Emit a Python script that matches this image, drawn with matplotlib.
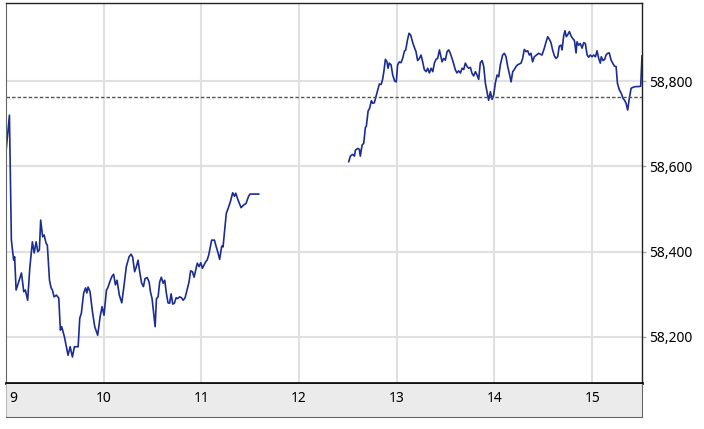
import matplotlib.pyplot as plt

plt.rcParams['font.family'] = ['Noto Sans', 'DejaVu Sans']

# Intraday prices, minutes after 9:00
am_min = [0.2, 2.1, 3.3, 4.7, 5.3, 6.2, 7.8, 9.5, 10.9, 11.9, 13.3, 14.6, 16.2, 17.3, 18.5, 19.5,
          20.5, 21.3, 22.5, 23.4, 24.6, 25.4, 26.7, 27.7, 28.5, 29.5, 31.0, 32.4, 33.4, 34.2, 35.9,
          37.1, 38.1, 39.4, 40.8, 42.0, 44.3, 45.3, 46.3, 47.7, 48.9, 49.6, 50.4, 51.6, 53.1, 54.5,
          56.3, 57.8, 59.0, 60.2, 61.7, 62.5, 64.1, 65.2, 66.1, 67.2, 68.2, 69.6, 71.1, 72.3, 73.9,
          75.6, 76.8, 77.8, 79.0, 80.1, 81.1, 82.1, 83.3, 84.4, 85.4, 86.7, 87.9, 88.7, 89.7, 90.7,
          91.6, 92.4, 93.4, 94.4, 95.4, 96.5, 97.5, 98.5, 99.5, 100.5, 101.4, 102.4, 103.4, 104.5,
          105.4, 106.7, 107.7, 108.8, 110.0, 111.2, 112.4, 113.4, 114.5, 115.5, 116.5, 117.5, 118.6,
          119.6, 120.6, 121.7, 122.6, 123.5, 124.5, 125.5, 126.3, 128.0, 129.0, 130.3, 131.2, 132.5,
          133.3, 134.3, 135.3, 136.4, 137.8, 139.2, 140.3, 141.1, 142.5, 144.4, 145.8, 147.4, 149.0,
          149.9, 155.2]
am_px = [58642, 58720, 58427, 58380, 58388, 58310, 58329, 58350, 58306, 58310, 58286, 58361, 58423,
         58397, 58423, 58400, 58404, 58474, 58435, 58439, 58420, 58415, 58333, 58315, 58310, 58294,
         58298, 58291, 58216, 58224, 58200, 58177, 58157, 58177, 58153, 58177, 58177, 58244, 58256,
         58303, 58315, 58303, 58317, 58306, 58259, 58224, 58204, 58247, 58271, 58251, 58310, 58315,
         58333, 58343, 58347, 58322, 58333, 58298, 58280, 58315, 58365, 58388, 58394, 58387, 58353,
         58365, 58380, 58353, 58326, 58318, 58337, 58339, 58329, 58306, 58290, 58255, 58224, 58290,
         58294, 58329, 58340, 58326, 58333, 58302, 58280, 58279, 58301, 58277, 58279, 58292, 58290,
         58294, 58292, 58286, 58292, 58310, 58329, 58355, 58353, 58340, 58357, 58373, 58365, 58374,
         58361, 58369, 58376, 58380, 58392, 58411, 58427, 58427, 58413, 58396, 58382, 58413, 58411,
         58451, 58490, 58501, 58517, 58538, 58530, 58537, 58521, 58503, 58509, 58513, 58530, 58535,
         58535]

pm_min = [210.5, 211.5, 212.9, 214.0, 214.6, 216.0, 217.0, 217.6, 218.7, 219.7, 220.7, 221.3, 222.4,
          223.3, 224.4, 225.2, 226.2, 227.3, 228.3, 229.3, 230.4, 231.3, 232.2, 233.0, 234.0, 234.6,
          235.4, 236.5, 237.5, 238.7, 239.7, 240.5, 241.6, 242.6, 243.6, 244.7, 245.5, 246.5, 247.5,
          248.5, 249.8, 250.8, 251.8, 252.8, 253.9, 254.9, 255.9, 256.9, 258.0, 259.0, 260.0, 261.1,
          262.1, 263.1, 264.1, 265.1, 266.2, 267.8, 268.8, 269.8, 270.9, 271.9, 272.9, 274.6, 276.0,
          277.0, 278.0, 279.1, 280.1, 281.1, 282.1, 283.2, 284.2, 285.2, 286.2, 287.2, 288.3, 289.3,
          290.3, 291.3, 292.4, 293.4, 294.4, 295.4, 296.4, 297.5, 298.5, 299.5, 300.5, 301.6, 302.6,
          303.6, 305.0, 306.1, 307.1, 308.1, 309.1, 310.2, 311.2, 312.2, 313.2, 314.2, 315.3, 316.3,
          317.3, 318.3, 319.4, 320.4, 321.4, 322.4, 323.4, 324.5, 327.1, 329.2, 330.6, 331.7, 332.7,
          333.7, 334.7, 335.7, 336.8, 337.8, 338.8, 339.8, 340.9, 341.5, 342.5, 343.3, 344.1, 344.9,
          346.0, 347.0, 348.0, 349.1, 350.1, 350.7, 351.7, 352.7, 353.8, 354.8, 355.8, 356.9, 357.8,
          358.9, 359.9, 360.9, 362.0, 363.0, 364.0, 365.0, 365.6, 366.7, 367.7, 368.5, 369.5, 370.5,
          371.6, 372.6, 373.6, 374.7, 375.5, 376.7, 377.9, 379.0, 379.9, 380.8, 381.8, 382.8, 383.9,
          384.9, 386.5, 388.5, 389.8, 390.6]
pm_px = [58611, 58624, 58628, 58624, 58638, 58642, 58640, 58624, 58650, 58654, 58691, 58694, 58730,
         58736, 58754, 58748, 58749, 58765, 58779, 58793, 58792, 58804, 58826, 58851, 58845, 58830,
         58842, 58838, 58814, 58800, 58798, 58838, 58845, 58843, 58853, 58870, 58873, 58895, 58912,
         58908, 58890, 58879, 58869, 58848, 58853, 58861, 58845, 58827, 58822, 58830, 58819, 58830,
         58822, 58842, 58851, 58853, 58873, 58845, 58853, 58849, 58869, 58873, 58865, 58845, 58826,
         58819, 58824, 58819, 58830, 58827, 58842, 58834, 58830, 58832, 58818, 58812, 58822, 58814,
         58804, 58843, 58848, 58834, 58795, 58775, 58755, 58775, 58757, 58767, 58795, 58814, 58810,
         58838, 58861, 58865, 58857, 58834, 58818, 58798, 58822, 58827, 58834, 58838, 58840, 58842,
         58853, 58874, 58869, 58871, 58861, 58865, 58845, 58857, 58865, 58861, 58877, 58892, 58904,
         58898, 58890, 58873, 58859, 58853, 58857, 58882, 58884, 58873, 58906, 58918, 58904, 58908,
         58916, 58906, 58900, 58895, 58866, 58892, 58884, 58888, 58877, 58890, 58888, 58861, 58856,
         58861, 58857, 58861, 58857, 58871, 58853, 58842, 58857, 58848, 58851, 58861, 58865, 58866,
         58849, 58842, 58835, 58834, 58795, 58779, 58771, 58759, 58755, 58748, 58732, 58759, 58783,
         58785, 58787, 58787, 58788, 58859]

prev_close = 58762
hours = [9, 10, 11, 12, 13, 14, 15]
y_ticks = [58200, 58400, 58600, 58800]

W, H = 704, 429
fig = plt.figure(figsize=(W / 100, H / 100), dpi=100)
ax = fig.add_axes([6 / W, (H - 383) / H, 636 / W, 380 / H])
band = fig.add_axes([6 / W, (H - 417) / H, 636 / W, 33 / H])

ax.set_xlim(0, 390.6)
ax.set_ylim(58092, 58983)

ax.plot(am_min, am_px, color='#1b2c93', lw=1.2)
ax.plot(pm_min, pm_px, color='#1b2c93', lw=1.2)
ax.axhline(prev_close, color='#555555', lw=1, ls=(0, (2.5, 1.5)))

tick_min = [(h - 9) * 60 for h in hours]
ax.set_xticks(tick_min[1:])
ax.set_xticklabels([])
ax.tick_params(axis='x', length=0)
ax.set_yticks(y_ticks)
ax.set_yticklabels([f"{v:,}" for v in y_ticks], fontsize=10)
ax.yaxis.tick_right()
ax.tick_params(axis='y', length=3, width=1, color='#aaaaaa', pad=2)
ax.grid(True, color='#e0e0e0', lw=1.5)
ax.set_axisbelow(True)

for s in ['top', 'right']:
    ax.spines[s].set_color('#222222')
    ax.spines[s].set_linewidth(1)
ax.spines['left'].set_color('#666666')
ax.spines['bottom'].set_color('#111111')
ax.spines['bottom'].set_linewidth(2)

band.set_facecolor('#ebebeb')
band.set_xlim(0, 390.6)
band.set_ylim(0, 1)
band.set_xticks([])
band.set_yticks([])
band.spines['top'].set_visible(False)
band.spines['left'].set_color('#bbbbbb')
band.spines['right'].set_color('#666666')
band.spines['bottom'].set_color('#666666')
for h, m in zip(hours, tick_min):
    if h == hours[0]:
        band.text(m + 2, 0.55, str(h), ha='left', va='center', fontsize=10)
    else:
        band.text(m, 0.55, str(h), ha='center', va='center', fontsize=10)

fig.savefig('out.png', dpi=100)
